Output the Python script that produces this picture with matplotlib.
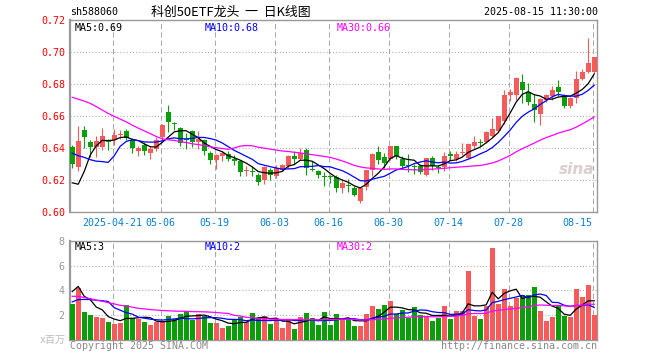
import numpy as np
import matplotlib
matplotlib.use("Agg")
import matplotlib.pyplot as plt

plt.rcParams["font.family"] = ["DejaVu Sans Mono", "Noto Sans CJK SC"]

# ---- data ----
opens = [0.6404, 0.6281, 0.6515, 0.6435, 0.6405, 0.6404, 0.6452, 0.6452, 0.6480, 0.6504,
         0.6452, 0.6383, 0.6417, 0.6369, 0.6394, 0.6467, 0.6627, 0.6552, 0.6527, 0.6458,
         0.6504, 0.6437, 0.6452, 0.6367, 0.6327, 0.6348, 0.6362, 0.6333, 0.6317, 0.6256,
         0.6258, 0.6233, 0.6202, 0.6265, 0.6223, 0.6265, 0.6285, 0.6348, 0.6331, 0.6385,
         0.6267, 0.6258, 0.6221, 0.6223, 0.6217, 0.6150, 0.6168, 0.6148, 0.6067, 0.6154,
         0.6265, 0.6377, 0.6346, 0.6329, 0.6415, 0.6333, 0.6294, 0.6288, 0.6285, 0.6233,
         0.6338, 0.6281, 0.6281, 0.6363, 0.6331, 0.6371, 0.6338, 0.6415, 0.6433, 0.6435,
         0.6473, 0.6504, 0.6567, 0.6733, 0.6730, 0.6813, 0.6752, 0.6677, 0.6610, 0.6702,
         0.6727, 0.6779, 0.6733, 0.6662, 0.6710, 0.6831, 0.6873, 0.6875]
highs = [0.6420, 0.6540, 0.6535, 0.6452, 0.6473, 0.6525, 0.6456, 0.6519, 0.6515, 0.6519,
         0.6463, 0.6410, 0.6431, 0.6415, 0.6467, 0.6548, 0.6667, 0.6565, 0.6531, 0.6494,
         0.6515, 0.6504, 0.6456, 0.6379, 0.6362, 0.6379, 0.6379, 0.6358, 0.6323, 0.6285,
         0.6285, 0.6244, 0.6290, 0.6275, 0.6296, 0.6302, 0.6358, 0.6379, 0.6400, 0.6400,
         0.6317, 0.6265, 0.6250, 0.6233, 0.6233, 0.6204, 0.6208, 0.6160, 0.6158, 0.6265,
         0.6369, 0.6412, 0.6371, 0.6415, 0.6415, 0.6352, 0.6365, 0.6300, 0.6300, 0.6338,
         0.6348, 0.6296, 0.6375, 0.6379, 0.6379, 0.6431, 0.6431, 0.6473, 0.6456, 0.6504,
         0.6587, 0.6600, 0.6765, 0.6769, 0.6846, 0.6864, 0.6808, 0.6737, 0.6713, 0.6737,
         0.6787, 0.6827, 0.6740, 0.6717, 0.6882, 0.6892, 0.7085, 0.6969]
lows = [0.6275, 0.6258, 0.6400, 0.6342, 0.6344, 0.6390, 0.6390, 0.6421, 0.6456, 0.6452,
        0.6369, 0.6352, 0.6358, 0.6331, 0.6379, 0.6452, 0.6498, 0.6510, 0.6410, 0.6394,
        0.6406, 0.6394, 0.6358, 0.6302, 0.6271, 0.6317, 0.6321, 0.6296, 0.6227, 0.6223,
        0.6223, 0.6170, 0.6177, 0.6202, 0.6213, 0.6254, 0.6275, 0.6302, 0.6323, 0.6233,
        0.6254, 0.6212, 0.6160, 0.6181, 0.6125, 0.6119, 0.6123, 0.6100, 0.6056, 0.6140,
        0.6223, 0.6298, 0.6275, 0.6323, 0.6329, 0.6267, 0.6250, 0.6235, 0.6240, 0.6227,
        0.6265, 0.6244, 0.6254, 0.6327, 0.6317, 0.6358, 0.6331, 0.6400, 0.6410, 0.6431,
        0.6469, 0.6500, 0.6552, 0.6692, 0.6702, 0.6681, 0.6670, 0.6560, 0.6546, 0.6690,
        0.6700, 0.6725, 0.6650, 0.6650, 0.6681, 0.6825, 0.6867, 0.6867]
closes = [0.6302, 0.6446, 0.6467, 0.6406, 0.6446, 0.6473, 0.6440, 0.6483, 0.6485, 0.6463,
          0.6400, 0.6400, 0.6383, 0.6394, 0.6452, 0.6546, 0.6563, 0.6548, 0.6431, 0.6452,
          0.6437, 0.6456, 0.6379, 0.6327, 0.6354, 0.6369, 0.6331, 0.6317, 0.6248, 0.6262,
          0.6252, 0.6185, 0.6281, 0.6233, 0.6273, 0.6296, 0.6348, 0.6331, 0.6369, 0.6275,
          0.6263, 0.6233, 0.6217, 0.6219, 0.6148, 0.6183, 0.6163, 0.6108, 0.6150, 0.6260,
          0.6365, 0.6327, 0.6304, 0.6415, 0.6350, 0.6285, 0.6285, 0.6283, 0.6250, 0.6336,
          0.6290, 0.6277, 0.6352, 0.6348, 0.6363, 0.6375, 0.6427, 0.6435, 0.6429, 0.6498,
          0.6519, 0.6598, 0.6733, 0.6748, 0.6835, 0.6760, 0.6685, 0.6638, 0.6707, 0.6733,
          0.6765, 0.6748, 0.6662, 0.6710, 0.6831, 0.6877, 0.6929, 0.6966]
volumes = [2.93, 4.19, 2.27, 2.03, 1.87, 1.79, 1.47, 1.28, 1.36, 2.80,
           1.81, 1.73, 1.47, 1.20, 1.41, 1.52, 1.92, 1.73, 2.08, 2.32,
           1.65, 2.08, 1.92, 1.39, 1.39, 0.99, 1.12, 1.68, 1.87, 1.47,
           2.19, 1.73, 1.92, 1.28, 1.68, 0.99, 1.68, 0.88, 1.87, 2.19,
           1.79, 1.20, 2.27, 1.20, 2.13, 1.68, 1.68, 1.12, 1.12, 2.08,
           2.72, 2.48, 2.80, 3.12, 2.13, 2.40, 1.81, 2.64, 2.00, 1.92,
           1.52, 1.81, 2.72, 1.68, 2.32, 2.32, 5.52, 1.92, 1.68, 2.72,
           7.39, 2.88, 4.08, 2.72, 3.41, 3.60, 3.60, 4.27, 2.35, 1.55,
           1.87, 2.72, 1.92, 1.87, 4.08, 3.47, 4.40, 2.00]
# sessions before the visible window, estimated from where the MA lines start
pre_close = [0.680, 0.684, 0.682, 0.705, 0.712, 0.708, 0.703, 0.700, 0.698, 0.702,
             0.695, 0.690, 0.692, 0.698, 0.700, 0.672, 0.668, 0.665, 0.662, 0.668,
             0.660, 0.657, 0.655, 0.654, 0.650, 0.649, 0.607, 0.589, 0.616]
pre_vol = [4.2, 5.1, 4.8, 5.6, 4.4, 4.9, 4.3, 4.7, 4.5, 4.6,
           4.4, 3.0, 2.8, 2.6, 2.5, 2.7, 2.4, 2.5, 2.4, 2.5,
           2.3, 2.2, 2.1, 2.4, 2.2, 2.09, 6.27, 3.38, 4.83]

date_labels = ["2025-04-21", "05-06", "05-19", "06-03", "06-16", "06-30", "07-14", "07-28", "08-15"]
date_index = [7, 15, 24, 34, 43, 53, 63, 73, 87]

RED = "#f65a5a"
GREEN = "#0a9e0a"
GRID = "#aaaaaa"
BORDER = "#999999"


def moving_avg(full, n, skip):
    out = np.convolve(full, np.ones(n) / n, mode="valid")
    return out[skip - n + 1:]


o = np.array(opens); h = np.array(highs); l = np.array(lows); c = np.array(closes)
v = np.array(volumes)
x = np.arange(len(c))
up = c >= o
colors = np.where(up, RED, GREEN)

cfull = np.array(pre_close + closes)
vfull = np.array(pre_vol + volumes)
npre = len(pre_close)
pma = {n: moving_avg(cfull, n, npre) for n in (5, 10, 30)}
vma = {n: moving_avg(vfull, n, npre) for n in (5, 10, 30)}
ma_colors = {5: "black", 10: "#0000ff", 30: "#ff00ff"}

W, H = 660, 360
fig = plt.figure(figsize=(W / 100, H / 100), dpi=100)
ax = fig.add_axes([70 / W, 1 - 212 / H, 527 / W, 192 / H])
axv = fig.add_axes([70 / W, 1 - 340 / H, 527 / W, 99.3 / H])

xlim = (-0.37, len(c) - 0.53)
grid_x = [i - 0.27 for i in date_index]

# candles
ax.vlines(x, l, h, colors=colors, linewidth=0.8, zorder=3)
body = np.maximum(np.abs(c - o), 0.0006)
ax.bar(x, body, bottom=np.minimum(o, c), width=0.82, color=colors, linewidth=0, zorder=4)
for n in (5, 10, 30):
    ax.plot(x, pma[n], color=ma_colors[n], linewidth=0.9, zorder=5)

# volume
axv.bar(x, v, width=0.82, color=colors, linewidth=0, zorder=3)
for n in (5, 10, 30):
    axv.plot(x, vma[n], color=ma_colors[n], linewidth=0.9, zorder=5)

for a in (ax, axv):
    a.set_xlim(*xlim)
    a.set_xticks(grid_x)
    a.set_axisbelow(True)
    a.grid(axis="x", color=GRID, linestyle=(0, (5, 3)), linewidth=0.75)
    a.grid(axis="y", color=GRID, linestyle=(0, (1, 2)), linewidth=0.75)
    for s in a.spines.values():
        s.set_color(BORDER)
        s.set_linewidth(1)
    a.spines["left"].set_linewidth(1.6)
    a.tick_params(length=0, labelsize=7.2)

ax.set_ylim(0.60, 0.72)
ax.set_yticks(np.arange(0.60, 0.7201, 0.02))
ax.set_yticklabels([f"{t:.2f}" for t in np.arange(0.60, 0.7201, 0.02)])
ax.tick_params(axis="y", labelcolor="red", pad=3)
ax.set_xticklabels(date_labels)
ax.tick_params(axis="x", labelcolor="#0a7fd0", pad=4)
ax.get_xticklabels()[-1].set_horizontalalignment("right")

axv.set_ylim(0, 8)
axv.set_yticks([2, 4, 6, 8])
axv.set_yticklabels(["2", "4", "6", "8"])
axv.tick_params(axis="y", labelcolor="#999999", pad=4)
axv.set_xticklabels([])

# header texts
fy = lambda py: 1 - py / H
fig.text(70 / W, fy(12), "sh588060", fontsize=7.2, va="center")
fig.text(231 / W, fy(12), "科创50ETF龙头  一  日K线图", fontsize=9.3, va="center", ha="center",
         family=["Noto Sans CJK SC", "DejaVu Sans"])
fig.text(598 / W, fy(12), "2025-08-15 11:30:00", fontsize=7.2, va="center", ha="right")

fig.text(75 / W, fy(28), f"MA5:{pma[5][-1]:.2f}", fontsize=7.2, va="center", color=ma_colors[5])
fig.text(205 / W, fy(28), f"MA10:{pma[10][-1]:.2f}", fontsize=7.2, va="center", color=ma_colors[10])
fig.text(337 / W, fy(28), f"MA30:{pma[30][-1]:.2f}", fontsize=7.2, va="center", color=ma_colors[30])

fig.text(75 / W, fy(247), f"MA5:{int(vma[5][-1])}", fontsize=7.2, va="center", color=ma_colors[5])
fig.text(205 / W, fy(247), f"MA10:{int(vma[10][-1])}", fontsize=7.2, va="center", color=ma_colors[10])
fig.text(337 / W, fy(247), f"MA30:{int(vma[30][-1])}", fontsize=7.2, va="center", color=ma_colors[30])

fig.text(66 / W, fy(340), "x百万", fontsize=7.2, va="center", ha="right", color="#bbbbbb")
fig.text(70 / W, fy(346), "Copyright 2025 SINA.COM", fontsize=7.2, va="center", color="#888888")
fig.text(597 / W, fy(346), "http://finance.sina.com.cn", fontsize=7.2, va="center", ha="right",
         color="#888888")

# sina watermark
fig.text(577 / W, fy(170), "sina", fontsize=11, va="center", ha="center", style="italic",
         weight="bold", color="#d9cfcf", family="DejaVu Sans")

fig.savefig("out.png", dpi=100)
